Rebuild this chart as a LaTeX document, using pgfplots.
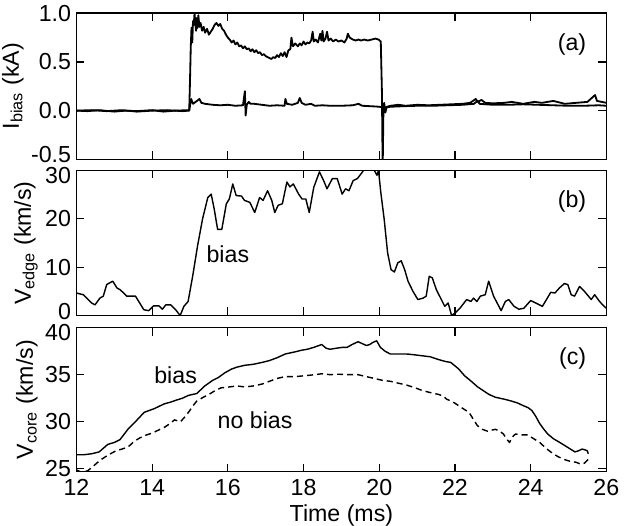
\documentclass[border=0pt]{standalone}
\usepackage{fontspec}
\setmainfont{Liberation Sans}
\usepackage{pgfplots}
\pgfplotsset{compat=1.18}

\newcommand{\up}[2]{\raisebox{#1}[\height][\depth]{#2}}

\pgfplotsset{
  panel/.style={
    scale only axis, width=263pt,
    xmin=12, xmax=26, xtick={12,14,...,26},
    tick align=inside, major tick length=4pt,
    axis line style={line width=0.8pt},
    tick style={line width=0.6pt, black},
    every axis plot/.append style={black, line join=round},
    ylabel style={inner sep=1pt},
    yticklabel style={inner sep=2.5pt},
  },
}

\begin{document}
\fontsize{11.5}{13.5}\selectfont
\begin{tikzpicture}

% (a) bias current
\begin{axis}[panel, name=pa, at={(0,0)}, anchor=north west, height=72.5pt,
  ymin=-0.5, ymax=1.0, ytick={-0.5,0,0.5,1.0},
  yticklabels={\up{2.5pt}{-0.5},0.0,0.5,1.0},
  xticklabels={}, ylabel={I\textsubscript{bias} (kA)}]
\addplot[line width=0.9pt] coordinates {
(12,0.0) (12.3,-0.005) (12.6,0.005) (13,-0.01) (13.3,0.0) (13.6,-0.005) (14,0.005) (14.3,-0.01) (14.6,0.0) (14.98,0.005)
(15.0,0.3) (15.02,0.65) (15.04,0.85) (15.06,0.70) (15.08,0.92) (15.1,0.88) (15.12,1.0) (15.14,0.90) (15.16,0.82)
(15.18,0.95) (15.2,0.85) (15.22,0.98) (15.25,0.86) (15.28,0.9) (15.32,0.82) (15.36,0.86) (15.4,0.80) (15.45,0.84)
(15.5,0.78) (15.55,0.81) (15.6,0.84) (15.65,0.88) (15.7,0.9) (15.75,0.87) (15.8,0.89) (15.85,0.84) (15.9,0.82)
(15.95,0.78) (16.0,0.75) (16.05,0.73) (16.1,0.70) (16.15,0.72) (16.2,0.68) (16.25,0.70) (16.3,0.66) (16.35,0.67)
(16.4,0.64) (16.45,0.66) (16.5,0.63) (16.55,0.64) (16.6,0.61) (16.65,0.63) (16.7,0.60) (16.75,0.62) (16.8,0.59)
(16.85,0.60) (16.9,0.57) (16.95,0.58) (17.0,0.56) (17.05,0.55) (17.1,0.54) (17.15,0.53) (17.2,0.55) (17.25,0.54)
(17.3,0.57) (17.35,0.55) (17.4,0.59) (17.45,0.56) (17.5,0.60) (17.55,0.55) (17.6,0.62) (17.65,0.63) (17.68,0.75)
(17.72,0.66) (17.78,0.69) (17.85,0.66) (17.9,0.69) (17.95,0.67) (18.0,0.71) (18.05,0.68) (18.1,0.70) (18.15,0.69)
(18.2,0.72) (18.24,0.81) (18.27,0.71) (18.32,0.73) (18.38,0.70) (18.44,0.79) (18.47,0.72) (18.5,0.82) (18.53,0.71)
(18.58,0.74) (18.62,0.81) (18.66,0.72) (18.72,0.74) (18.78,0.71) (18.85,0.73) (18.92,0.71) (19.0,0.72) (19.08,0.70)
(19.14,0.74) (19.17,0.79) (19.22,0.75) (19.3,0.73) (19.38,0.72) (19.45,0.73) (19.52,0.72) (19.6,0.73) (19.7,0.72)
(19.8,0.73) (19.9,0.74) (19.98,0.73) (20.04,0.71) (20.07,0.2) (20.09,-0.6) (20.11,0.0) (20.13,0.08) (20.16,-0.02)
(20.2,0.04) (20.3,0.05) (20.5,0.06) (20.7,0.05) (21.0,0.06) (21.3,0.055) (21.6,0.06) (21.9,0.065) (22.2,0.07)
(22.4,0.08) (22.55,0.12) (22.6,0.09) (22.7,0.11) (22.8,0.08) (23.0,0.075) (23.3,0.08) (23.5,0.09) (23.8,0.07)
(24.1,0.09) (24.3,0.08) (24.6,0.1) (24.9,0.07) (25.2,0.08) (25.5,0.09) (25.7,0.16) (25.75,0.1) (26.0,0.08)
};
\addplot[line width=0.9pt] coordinates {
(12,0.0) (12.4,0.005) (12.8,-0.005) (13.2,0.005) (13.6,-0.01) (14.0,0.0) (14.4,0.005) (14.8,-0.005) (14.98,0.0)
(15.0,0.05) (15.03,0.12) (15.08,0.07) (15.15,0.09) (15.25,0.12) (15.3,0.08) (15.4,0.07) (15.6,0.06) (15.8,0.055)
(16.0,0.06) (16.2,0.05) (16.4,0.055) (16.45,0.2) (16.47,-0.05) (16.5,0.06) (16.55,0.09) (16.6,0.07) (16.7,0.07)
(16.9,0.06) (17.1,0.05) (17.3,0.055) (17.5,0.05) (17.52,0.12) (17.56,0.07) (17.7,0.06) (17.85,0.08) (17.9,0.13)
(17.95,0.08) (18.05,0.06) (18.2,0.07) (18.3,0.05) (18.5,0.055) (18.7,0.05) (19.0,0.05) (19.3,0.055) (19.45,0.07)
(19.55,0.05) (19.8,0.045) (20.0,0.04) (20.1,0.03) (20.3,0.04) (20.6,0.045) (21.0,0.05) (21.4,0.05) (21.8,0.055)
(22.2,0.06) (22.5,0.07) (22.6,0.1) (22.65,0.07) (23.0,0.06) (23.4,0.06) (23.8,0.065) (24.2,0.06) (24.6,0.055)
(25.0,0.05) (25.4,0.05) (25.8,0.055) (26,0.05)
};
\node[anchor=north east] at (rel axis cs:1,1) [xshift=-6pt, yshift=-6pt] {(a)};
\end{axis}

% (b) edge velocity
\begin{axis}[panel, name=pb, at={(0,-78pt)}, anchor=north west, height=72pt,
  ymin=0, ymax=30, ytick={0,10,20,30},
  yticklabels={\up{2pt}{0},10,20,\up{-2.5pt}{30}},
  xticklabels={}, ylabel={V\textsubscript{edge} (km/s)}]
\addplot[line width=0.7pt] coordinates {
(12.0,4.65) (12.18,4.3) (12.4,2.6) (12.49,2.2) (12.62,3.6) (12.71,4.0) (12.8,6.4) (12.96,7.1) (13.07,5.7)
(13.16,5.3) (13.33,4.0) (13.56,4.0) (13.78,1.2) (13.91,1.0) (14.04,2.0) (14.18,2.0) (14.27,1.3) (14.36,2.2)
(14.49,2.2) (14.62,1.2) (14.74,0) (14.84,1.9) (14.95,2.9) (15.07,8.1) (15.2,14.4) (15.33,19.9) (15.47,24.4)
(15.56,25.1) (15.64,22.0) (15.73,17.8) (15.84,17.8) (15.96,23.1) (16.04,24.1) (16.13,27.2) (16.22,24.8)
(16.36,24.7) (16.44,23.8) (16.58,23.4) (16.71,21.3) (16.84,24.4) (16.93,23.8) (17.05,25.8) (17.16,23.8)
(17.24,21.3) (17.33,22.8) (17.44,23.1) (17.56,27.6) (17.64,26.6) (17.73,27.2) (17.87,25.1) (17.96,24.1)
(18.06,24.1) (18.15,21.3) (18.27,26.5) (18.42,29.7) (18.53,27.9) (18.62,26.2) (18.76,28.3) (18.89,28.3)
(19.02,25.1) (19.11,26.2) (19.2,25.8) (19.31,27.9) (19.42,28.3) (19.54,29.5) (19.64,30.7) (19.82,30.7)
(19.94,29.0) (19.98,30) (20.04,25.5) (20.13,19.9) (20.22,13.0) (20.31,9.5) (20.4,9.0) (20.49,10.9)
(20.58,11.3) (20.67,9.5) (20.76,7.1) (20.89,5.0) (21.02,3.3) (21.16,3.6) (21.24,4.0) (21.32,8.1) (21.4,7.8)
(21.51,5.3) (21.64,3.3) (21.73,1.9) (21.82,2.6) (21.91,0) (22.0,0.5) (22.13,1.5) (22.31,3.3) (22.42,2.9)
(22.49,3.6) (22.58,2.9) (22.67,4.0) (22.8,4.3) (22.89,7.1) (23.02,4.0) (23.22,1.0) (23.33,2.9) (23.42,3.3)
(23.56,1.9) (23.69,1.3) (23.82,1.5) (24.0,3.1) (24.13,2.6) (24.31,1.9) (24.44,3.6) (24.53,4.8) (24.64,4.65)
(24.76,5.7) (24.89,6.6) (24.98,6.4) (25.07,4.3) (25.16,4.0) (25.29,6.0) (25.42,5.0) (25.6,3.3) (25.69,4.3)
(25.82,2.9) (25.94,1.9) (26.0,1.5)
};
\node at (axis cs:16.0,12.6) {bias};
\node[anchor=north east] at (rel axis cs:1,1) [xshift=-6pt, yshift=-6pt] {(b)};
\end{axis}

% (c) core velocity
\begin{axis}[panel, name=pc, at={(0,-156pt)}, anchor=north west, height=71.5pt,
  ymin=24.7, ymax=40, ytick={25,30,35,40},
  yticklabels={25,30,35,\up{-2.5pt}{40}},
  xticklabels={12,14,16,18,20,22,24,26}, xlabel={Time (ms)},
  xlabel style={inner sep=0pt},
  ylabel={V\textsubscript{core} (km/s)}]
\addplot[line width=0.7pt] coordinates {
(12.0,26.5) (12.2,26.5) (12.4,26.6) (12.6,26.8) (12.83,27.6) (13.0,27.8) (13.15,28.1) (13.36,29.2) (13.58,30.1)
(13.79,31.0) (14.06,31.4) (14.32,31.9) (14.5,32.1) (14.64,32.3) (14.8,32.5) (14.96,32.8) (15.18,33.0)
(15.39,33.8) (15.6,34.4) (15.75,34.7) (15.92,35.2) (16.1,35.6) (16.24,35.8) (16.45,36.0) (16.67,36.1)
(16.9,36.3) (17.1,36.5) (17.3,36.8) (17.52,37.2) (17.75,37.4) (17.95,37.6) (18.1,37.7) (18.27,37.9)
(18.48,38.2) (18.6,37.8) (18.7,37.7) (18.85,37.8) (19.02,37.9) (19.15,37.9) (19.28,38.2) (19.44,38.5)
(19.55,38.3) (19.66,38.1) (19.75,38.2) (19.82,38.4) (19.93,38.6) (20.03,37.9) (20.15,37.5) (20.29,37.2)
(20.5,37.2) (20.72,37.2) (20.95,37.1) (21.15,37.0) (21.35,36.9) (21.57,36.6) (21.75,36.4) (21.89,36.3)
(22.1,35.6) (22.25,34.9) (22.43,34.3) (22.6,33.7) (22.75,33.3) (22.9,32.9) (23.07,32.6) (23.3,32.4)
(23.49,32.2) (23.65,32.0) (23.81,31.7) (23.93,31.5) (24.03,31.2) (24.13,30.6) (24.24,29.8) (24.35,29.2)
(24.45,28.7) (24.6,28.2) (24.77,27.8) (24.93,27.4) (25.09,27.0) (25.17,26.8) (25.25,26.9) (25.36,27.1)
(25.45,27.0) (25.5,26.9) (25.52,26.6)
};
\addplot[line width=0.7pt, dash pattern=on 3pt off 2pt] coordinates {
(12.0,24.9) (12.15,24.6) (12.3,24.8) (12.45,25.3) (12.62,25.9) (12.85,26.5) (13.04,26.9) (13.2,27.1) (13.36,27.3)
(13.52,27.9) (13.68,28.3) (13.85,28.6) (14.0,28.8) (14.16,29.1) (14.32,29.4) (14.47,29.8) (14.59,30.2) (14.75,30.0)
(14.86,30.5) (14.96,31.0) (15.08,31.7) (15.18,32.2) (15.35,32.6) (15.5,32.9) (15.66,33.3) (15.82,33.6)
(16.04,33.7) (16.24,33.8) (16.45,33.7) (16.67,33.8) (16.9,34.0) (17.1,34.3) (17.3,34.6) (17.52,34.8)
(17.8,34.8) (18.06,34.9) (18.3,35.0) (18.48,35.1) (18.7,35.0) (18.91,35.05) (19.2,35.0) (19.44,35.0)
(19.65,34.8) (19.87,34.6) (20.08,34.4) (20.29,34.3) (20.5,34.1) (20.72,33.9) (20.95,33.6) (21.15,33.3)
(21.35,33.1) (21.57,32.9) (21.7,32.7) (21.78,32.4) (21.95,32.1) (22.1,31.7) (22.25,31.3) (22.37,31.0)
(22.48,30.3) (22.59,29.6) (22.72,29.2) (22.86,29.0) (22.96,29.1) (23.07,29.2) (23.18,29.0) (23.28,28.7)
(23.36,28.2) (23.44,27.8) (23.52,28.4) (23.6,28.7) (23.76,28.6) (23.92,28.6) (24.08,28.2) (24.24,27.8)
(24.4,27.2) (24.56,26.7) (24.72,26.3) (24.88,26.0) (25.04,25.8) (25.2,25.7) (25.32,25.5) (25.42,25.6)
(25.52,26.0)
};
\node at (axis cs:14.62,34.9) {bias};
\node at (axis cs:16.72,30.2) {no bias};
\node[anchor=north east] at (rel axis cs:1,1) [xshift=-6pt, yshift=-6pt] {(c)};
\end{axis}

\end{tikzpicture}
\end{document}
